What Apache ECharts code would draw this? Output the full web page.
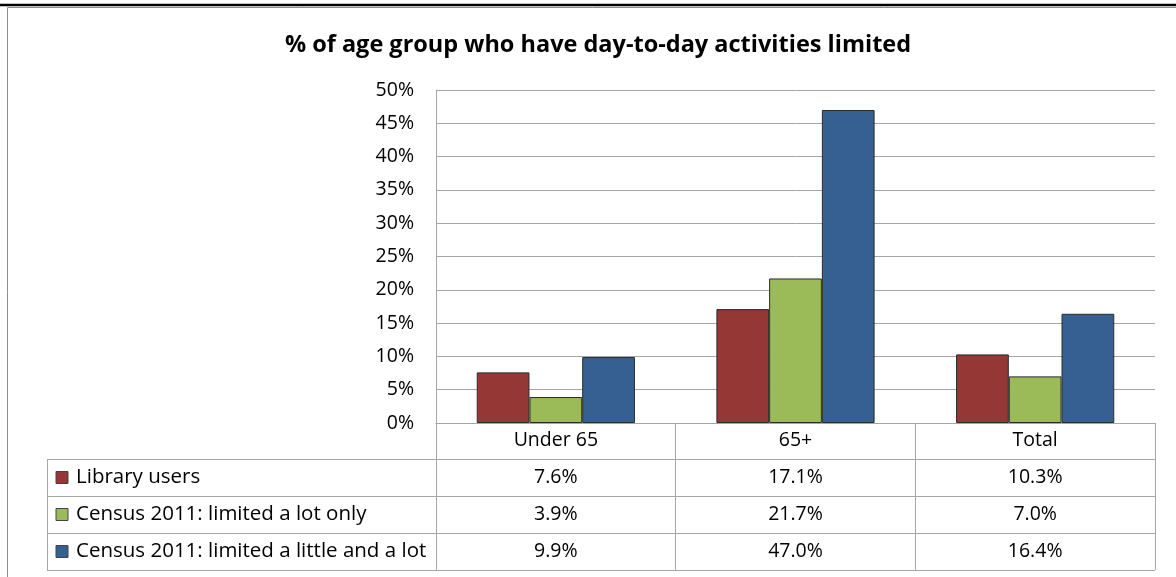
<!DOCTYPE html>
<html>
<head>
<meta charset="utf-8">
<script src="https://cdn.jsdelivr.net/npm/echarts@6/dist/echarts.min.js"></script>
<style>
  html, body { margin: 0; padding: 0; background: #fff; }
  #main { width: 1176px; height: 577px; }
</style>
</head>
<body>
<div id="main"></div>
<script>
// data (percent)
var categories = ['Under 65', '65+', 'Total'];
var seriesNames = ['Library users', 'Census 2011: limited a lot only', 'Census 2011: limited a little and a lot'];
var libraryUsers = [7.6, 17.1, 10.3];
var censusLot = [3.9, 21.7, 7.0];
var censusLittleLot = [9.9, 47.0, 16.4];
var colors = ['#953735', '#9bbb59', '#376092'];

var allValues = [libraryUsers, censusLot, censusLittleLot];
var font = '"Open Sans", Lato, sans-serif';
var lineCol = '#a6a6a6';

var chart = echarts.init(document.getElementById('main'));

// table layout
var tableLeft = 47, plotLeft = 436, plotRight = 1155;
var rowTops = [459, 496, 533, 570];

var option = {
  animation: false,
  title: {
    text: '% of age group who have day-to-day activities limited',
    left: 593,
    top: 28,
    textAlign: 'center',
    textStyle: { fontFamily: font, fontSize: 23.5, fontWeight: 'bold', color: '#000' }
  },
  grid: { left: plotLeft, right: 1176 - plotRight, top: 90, bottom: 577 - 423 },
  xAxis: {
    type: 'category',
    data: categories,
    axisLine: { lineStyle: { color: lineCol, width: 1 } },
    axisTick: { show: true, length: 570 - 423, lineStyle: { color: lineCol } },
    axisLabel: { margin: 7, color: '#000', fontFamily: font, fontSize: 19.5 }
  },
  yAxis: {
    type: 'value',
    min: 0,
    max: 50,
    interval: 5,
    axisLine: { show: true, lineStyle: { color: lineCol } },
    axisTick: { show: false },
    splitLine: { lineStyle: { color: lineCol } },
    axisLabel: { formatter: '{value}%', margin: 22, color: '#000', fontFamily: font, fontSize: 19.5 }
  },
  series: allValues.map(function (vals, i) {
    return {
      name: seriesNames[i],
      type: 'bar',
      data: vals,
      barGap: '0%',
      barCategoryGap: '34%',
      itemStyle: { color: colors[i], borderColor: '#2b2b2b', borderWidth: 1 }
    };
  })
};
chart.setOption(option);

// data table under the axis
var g = [];
// outer frame
g.push({ type: 'rect', shape: { x: 7.5, y: 7.5, width: 1200, height: 600 }, style: { fill: null, stroke: '#8c8c8c', lineWidth: 1 }, silent: true });
g.push({ type: 'line', shape: { x1: 0, y1: 5, x2: 1176, y2: 5 }, style: { stroke: '#000', lineWidth: 2.5 }, silent: true });
rowTops.forEach(function (y) {
  g.push({ type: 'line', shape: { x1: tableLeft, y1: y + 0.5, x2: plotRight, y2: y + 0.5 }, style: { stroke: lineCol, lineWidth: 1 }, silent: true });
});
g.push({ type: 'line', shape: { x1: tableLeft + 0.5, y1: rowTops[0], x2: tableLeft + 0.5, y2: rowTops[3] }, style: { stroke: lineCol, lineWidth: 1 }, silent: true });

for (var r = 0; r < 3; r++) {
  var cy = (rowTops[r] + rowTops[r + 1]) / 2;
  g.push({ type: 'rect', shape: { x: 56, y: cy - 6, width: 12, height: 12 }, style: { fill: colors[r], stroke: '#444', lineWidth: 1 }, silent: true });
  g.push({ type: 'text', x: 76, y: cy, style: { text: seriesNames[r], fontFamily: font, fontSize: 20.5, fill: '#000', verticalAlign: 'middle' }, silent: true });
  for (var c = 0; c < categories.length; c++) {
    var cx = chart.convertToPixel({ xAxisIndex: 0 }, c);
    g.push({ type: 'text', x: cx, y: cy, style: { text: allValues[r][c].toFixed(1) + '%', fontFamily: font, fontSize: 19.5, fill: '#000', align: 'center', verticalAlign: 'middle' }, silent: true });
  }
}
chart.setOption({ graphic: g });
</script>
</body>
</html>
